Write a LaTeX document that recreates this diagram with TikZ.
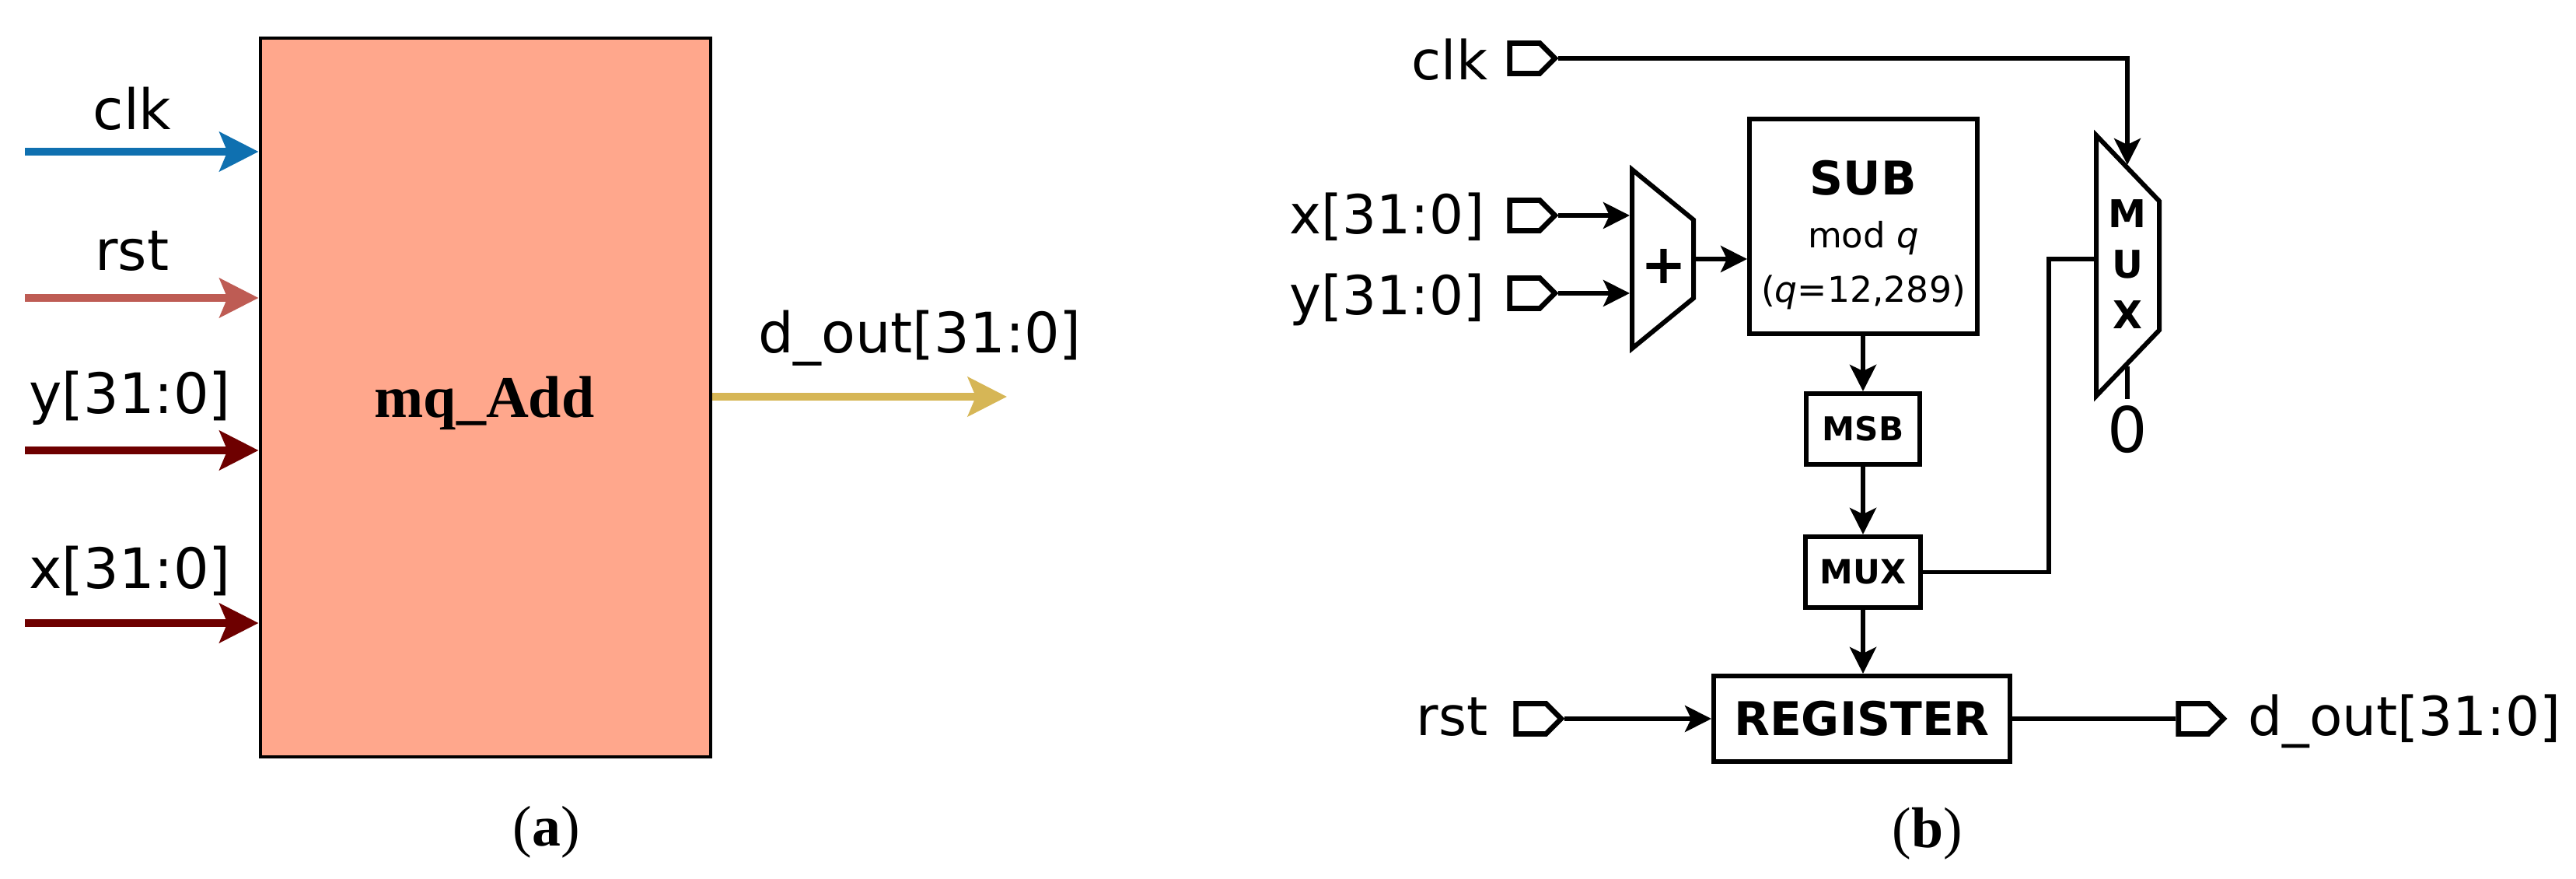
\documentclass[tikz,border=0pt]{standalone}
\usepackage{fontspec}
\setmainfont{DejaVu Sans}
\newfontfamily\capfont{Liberation Serif}
\usepackage{tikz}
\usetikzlibrary{arrows.meta, positioning, shapes.geometric, shapes.symbols}
\definecolor{mqFill}{RGB}{255,167,140}
\definecolor{mqClk}{RGB}{15,112,176}
\definecolor{mqRst}{RGB}{190,92,84}
\definecolor{mqBus}{RGB}{110,0,0}
\definecolor{mqOut}{RGB}{214,182,86}

\begin{document}
\begin{tikzpicture}[
    sig/.style={font=\fontsize{20.4}{24}\selectfont, anchor=base, inner sep=0pt},
    lab/.style={font=\fontsize{19.7}{24}\selectfont, anchor=base east, inner sep=0pt},
    subcap/.style={font=\fontsize{21}{24}\selectfont\capfont, anchor=base, inner sep=0pt},
    inarr/.style={-{Stealth[length=5mm, width=5mm, inset=1mm]}, line width=2.9pt},
    blk/.style={draw, line width=1.7pt, inner sep=0pt, align=center, font=\bfseries},
    port/.style={draw, line width=1.9pt, signal, signal to=east, signal from=nowhere,
      minimum width=0.58cm, minimum height=0.39cm, inner sep=0pt, fill=white},
    wire/.style={line width=1.6pt},
    arr/.style={wire, -{Stealth[length=3.4mm, width=3.4mm, inset=0.8mm]}},
    trap/.style={draw, line width=1.7pt, trapezium, shape border rotate=270, trapezium stretches=true, inner sep=1pt}
  ]
    \useasboundingbox (0,0) rectangle (33.13,-11.3);
    % left panel
    \node[draw, line width=1.4pt, fill=mqFill, minimum width=5.79cm, minimum height=9.24cm] (mqadd) at (6.245,-5.11) {};
    \node[font=\fontsize{21.6}{24}\selectfont\capfont\bfseries, anchor=base, inner sep=0pt] (mqname) at (6.23,-5.37) {mq\_Add};
    \coordinate (clkin) at (0.32,-1.95);
    \coordinate (rstin) at (0.32,-3.83);
    \coordinate (yin) at (0.32,-5.79);
    \coordinate (xin) at (0.32,-8.01);
    \coordinate (dend) at (12.95,-5.10);
    \draw[inarr, draw=mqClk] (clkin) -- (clkin -| mqadd.west);
    \draw[inarr, draw=mqRst] (rstin) -- (rstin -| mqadd.west);
    \draw[inarr, draw=mqBus] (yin) -- (yin -| mqadd.west);
    \draw[inarr, draw=mqBus] (xin) -- (xin -| mqadd.west);
    \draw[inarr, draw=mqOut] (dend -| mqadd.east) -- (dend);
    \node[sig] (lclk) at (1.70,-1.67) {clk};
    \node[sig] (lrst) at (1.70,-3.48) {rst};
    \node[sig] (ly) at (1.67,-5.32) {y[31:0]};
    \node[sig] (lx) at (1.67,-7.57) {x[31:0]};
    \node[sig] (ldout) at (11.83,-4.54) {d\_out[31:0]};
    \node[subcap] (capa) at (7.03,-10.88) {(\textbf{a})};
    % right panel
    \node[port] (pclk) at (19.61,-0.75) {};
    \node[port] (px) at (19.61,-2.77) {};
    \node[port] (py) at (19.61,-3.77) {};
    \node[port] (prst) at (19.69,-9.24) {};
    \node[port] (pout) at (28.21,-9.24) {};
    \node[lab] (tclk) at (19.14,-1.03) {clk};
    \node[lab] (tx) at (19.10,-3.01) {x[31:0]};
    \node[lab] (ty) at (19.10,-4.05) {y[31:0]};
    \node[lab] (trst) at (19.14,-9.46) {rst};
    \node[lab, anchor=base west] (tout) at (28.91,-9.46) {d\_out[31:0]};
    \node[trap, trapezium angle=57.3, minimum width=2.30cm, minimum height=0.79cm] (addr) at (21.385,-3.33) {};
    \node[font=\fontsize{20}{24}\selectfont\bfseries, inner sep=0pt] (plus) at (21.40,-3.42) {+};
    \node[blk, minimum width=2.93cm, minimum height=2.76cm] (sub) at (23.965,-2.91)
      {\rule{0pt}{0.66cm}\fontsize{17}{19}\selectfont SUB\\[7.4pt]
       \fontsize{12.8}{15}\selectfont\mdseries mod \textit{q}\\[6.4pt]
       \fontsize{13}{15}\selectfont\mdseries (\textit{q}=12,289)};
    \node[blk, font=\fontsize{12}{14}\selectfont\bfseries, minimum width=1.46cm, minimum height=0.91cm] (msb) at (23.96,-5.515) {MSB};
    \node[blk, font=\fontsize{12.2}{14}\selectfont\bfseries, minimum width=1.48cm, minimum height=0.91cm] (mxs) at (23.96,-7.355) {MUX};
    \node[blk, font=\fontsize{17}{20}\selectfont\bfseries, minimum width=3.81cm, minimum height=1.10cm] (reg) at (23.945,-9.24) {REGISTER};
    \node[trap, trapezium angle=63, minimum width=3.35cm, minimum height=0.81cm] (mxb) at (27.365,-3.415) {};
    \node[align=center, inner sep=0pt, font=\fontsize{14}{18.5}\selectfont\bfseries] (mxbl) at (27.36,-3.40) {M\\U\\X};
    \coordinate (mxclk) at (27.36,-2.12);
    \coordinate (mxzero) at (27.36,-4.71);
    \coordinate (bend) at (26.35,-3.33);
    \node[font=\fontsize{23}{24}\selectfont, anchor=north, inner sep=0pt, outer ysep=0.09cm] (zero) at (27.36,-5.13) {0};
    \draw[arr] (pclk.east) -| (mxclk);
    \draw[arr] (px.east) -- (px.east -| addr.west);
    \draw[arr] (py.east) -- (py.east -| addr.west);
    \draw[arr] (addr.east) -- (sub.west |- addr.east);
    \draw[arr] (sub.south -| msb.north) -- (msb.north);
    \draw[arr] (msb.south) -- (mxs.north);
    \draw[arr] (mxs.south) -- (reg.north -| mxs.south);
    \draw[wire] (mxs.east) -| (bend) -- (bend -| mxb.west);
    \draw[wire] (mxzero) -- (zero.north);
    \draw[arr] (prst.east) -- (reg.west |- prst.east);
    \draw[wire] (reg.east |- pout.west) -- (pout.west);
    \node[subcap] (capb) at (24.79,-10.90) {(\textbf{b})};
  \end{tikzpicture}
\end{document}
